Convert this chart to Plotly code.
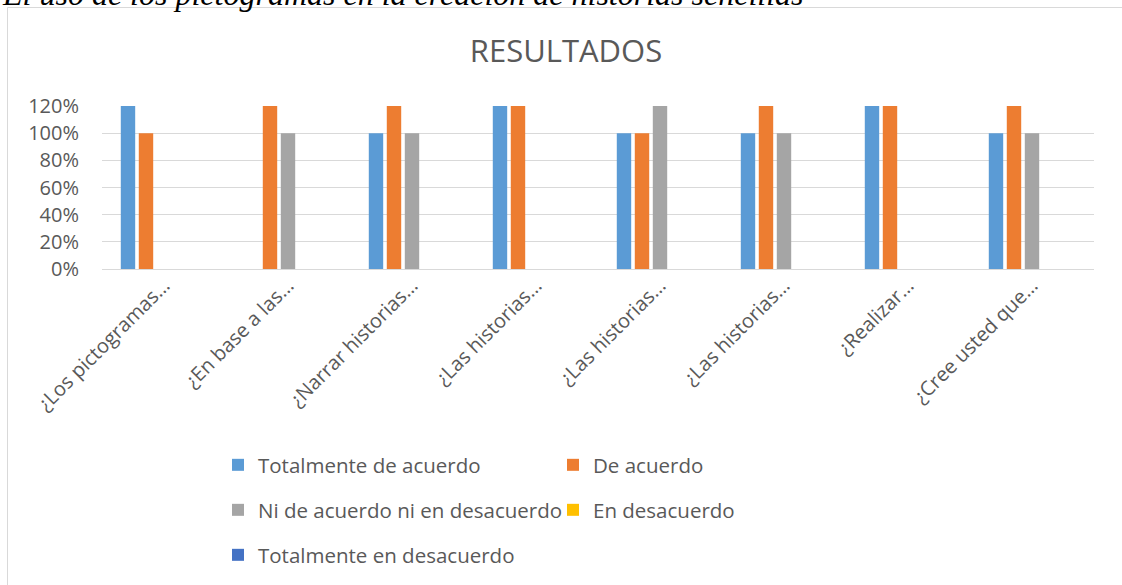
import plotly.graph_objects as go

# ---------------- data ----------------
categories = ["¿Los pictogramas…", "¿En base a las…", "¿Narrar historias…",
              "¿Las historias…", "¿Las historias…", "¿Las historias…",
              "¿Realizar…", "¿Cree usted que…"]
totalmente_de_acuerdo = [2, 0, 1, 2, 1, 1, 2, 1]
de_acuerdo = [1, 2, 2, 2, 1, 2, 2, 2]
ni_de_acuerdo_ni_en_desacuerdo = [0, 1, 1, 0, 2, 1, 0, 1]
en_desacuerdo = [0, 0, 0, 0, 0, 0, 0, 0]
totalmente_en_desacuerdo = [0, 0, 0, 0, 0, 0, 0, 0]
series_names = ["Totalmente de acuerdo", "De acuerdo",
                "Ni de acuerdo ni en desacuerdo", "En desacuerdo",
                "Totalmente en desacuerdo"]
y_tick_values = [0, 0.2, 0.4, 0.6, 0.8, 1.0, 1.2]
title_text = "RESULTADOS"
doc_text = "El uso de los pictogramas en la creación de historias sencillas"

# ---------------- style ----------------
colors = ["#5B9BD5", "#ED7D31", "#A5A5A5", "#FFC000", "#4472C4"]
legend_ids = ["legend", "legend", "legend2", "legend2", "legend3"]
FONT = "Open Sans"
GRAY_TXT = "#595959"
GRID = "#D9D9D9"

W, H = 1122, 585
ML, MR, MT, MB = 102, 28, 106, 316
PW, PH = W - ML - MR, H - MT - MB


def px_x(px):
    return (px - ML) / PW


def px_y(py):
    return (H - MB - py) / PH


x_pos = list(range(len(categories)))
all_series = [totalmente_de_acuerdo, de_acuerdo, ni_de_acuerdo_ni_en_desacuerdo,
              en_desacuerdo, totalmente_en_desacuerdo]

fig = go.Figure()
for name, vals, col, lg in zip(series_names, all_series, colors, legend_ids):
    fig.add_trace(go.Bar(x=x_pos, y=vals, name=name, legend=lg,
                         marker=dict(color=col, line=dict(width=0))))

legend_common = dict(orientation="h", xanchor="left", yanchor="middle",
                     font=dict(family=FONT, size=20.5, color=GRAY_TXT),
                     bgcolor="rgba(0,0,0,0)", entrywidth=290,
                     entrywidthmode="pixels", itemsizing="constant")

fig.update_layout(
    width=W, height=H, autosize=False,
    margin=dict(l=ML, r=MR, t=MT, b=MB, pad=0, autoexpand=False),
    paper_bgcolor="white", plot_bgcolor="white",
    font=dict(family=FONT, color=GRAY_TXT),
    barmode="group", bargap=0.274, bargroupgap=0.2,
    title=dict(text=title_text, x=566 / W, xref="container", xanchor="center",
               y=1 - 51 / H, yref="container", yanchor="middle",
               font=dict(family=FONT, size=31, color=GRAY_TXT)),
    xaxis=dict(tickmode="array", tickvals=x_pos, ticktext=categories,
               tickangle=-45, range=[-0.5, len(categories) - 0.5],
               showgrid=False, zeroline=False, showline=False, ticks="",
               automargin=False,
               tickfont=dict(family=FONT, size=20, color=GRAY_TXT)),
    yaxis=dict(range=[0, 1.2], tickmode="array", tickvals=y_tick_values,
               tickformat=".0%", showgrid=True, gridcolor=GRID, gridwidth=1.3,
               zeroline=True, zerolinecolor=GRID, zerolinewidth=1.3,
               showline=False, ticks="", ticklabelstandoff=22,
               automargin=False,
               tickfont=dict(family=FONT, size=20, color=GRAY_TXT)),
    legend=dict(x=px_x(218), y=px_y(465), **legend_common),
    legend2=dict(x=px_x(218), y=px_y(510), **legend_common),
    legend3=dict(x=px_x(218), y=px_y(555), **legend_common),
    shapes=[dict(type="rect", xref="paper", yref="paper",
                 x0=px_x(7.5), x1=px_x(1140), y0=px_y(7.5), y1=px_y(600),
                 line=dict(color=GRID, width=1), fillcolor="rgba(0,0,0,0)",
                 layer="below")],
    annotations=[dict(text=doc_text, xref="paper", yref="paper",
                      x=px_x(0), y=px_y(14), xanchor="left", yanchor="bottom",
                      showarrow=False,
                      font=dict(family="Liberation Serif", size=32,
                                color="black", style="italic"))],
)

fig.write_html("out.html", config={"displayModeBar": False},
               post_script="document.body.style.margin='0';")
